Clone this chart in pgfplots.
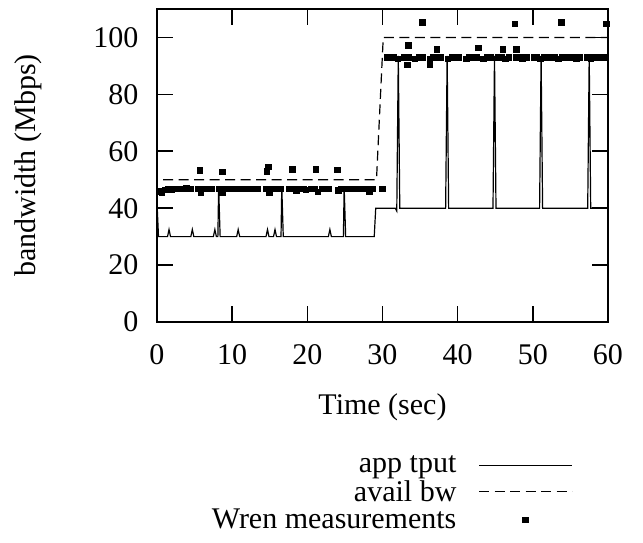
\documentclass[border=0pt]{standalone}
\usepackage{fontspec}
\setmainfont{Liberation Serif}
\usepackage{pgfplots}
\pgfplotsset{compat=1.18}

\newcommand{\chartfont}{\fontsize{30}{30}\selectfont}
\pgfplotsset{
  longline legend/.style={legend image code/.code={\draw[##1] (0pt,0pt) -- (93pt,0pt);}},
  mark legend/.style={legend image code/.code={\draw[##1] plot coordinates {(46pt,0pt)};}},
}

\begin{document}
\begin{tikzpicture}
\begin{axis}[
scale only axis,
width=451pt, height=313pt,
xmin=0, xmax=60, ymin=0, ymax=110,
xtick={0,10,...,60}, ytick={0,20,...,100},
tick align=inside,
major tick length=16pt,
axis line style={line width=2pt},
tick style={line width=1.6pt, black},
/pgf/number format/assume math mode=true,
tick label style={font=\chartfont},
xticklabel style={yshift=-19pt},
yticklabel style={xshift=-15pt},
label style={font=\chartfont},
xlabel={Time (sec)},
ylabel={bandwidth (Mbps)},
xlabel style={yshift=-22pt},
ylabel style={yshift=45pt},
legend style={font=\chartfont, draw=none, fill=none, at={(0.922,-0.421)}, anchor=north east,
  cells={anchor=east}, row sep=2.3pt, inner sep=0pt,
  /tikz/every odd column/.append style={column sep=20pt}},
legend plot pos=right,
legend cell align=right,
]
% app tput
\addplot[black, line width=1.2pt, sharp plot, longline legend] coordinates {
(0,42) (0.2,30) (1.4,30) (1.6,32.5) (1.8,30) (4.5,30) (4.7,32.5) (4.9,30)
(7.5,30) (7.7,32.5) (7.9,30) (8.1,30) (8.2,47.5) (8.4,30)
(10.6,30) (10.8,32.5) (11.0,30) (14.5,30) (14.7,32.5) (14.9,30)
(15.5,30) (15.7,32.5) (15.9,30) (16.5,30) (16.6,47.5) (16.8,30)
(22.8,30) (23.0,32.5) (23.2,30) (24.8,30) (24.9,47.5) (25.1,30)
(28.9,30) (29.1,40) (31.7,40) (31.9,39) (32.1,93.5) (32.3,40)
(38.4,40) (38.6,93.5) (38.8,40) (44.7,40) (44.9,93.5) (45.1,40)
(50.9,40) (51.1,93.5) (51.3,40) (57.3,40) (57.5,93.5) (57.7,40) (60,40)
};
\addlegendentry{app tput}
% avail bw
\addplot[black, line width=1.2pt, dash pattern=on 10pt off 5.5pt, longline legend] coordinates {
(0.8,50) (29.2,50) (30.1,100) (60,100)
};
\addlegendentry{avail bw}
% Wren measurements
\addplot[only marks, mark=square*, mark size=2.8pt, black, mark legend] coordinates {
(0.2,46) (0.6,45.6) (1.0,46.5) (1.5,46.8) (1.9,46.5) (2.4,46.8) (2.9,46.8) (3.4,46.8) (3.9,47) (4.4,46.8)
(5.4,46.8) (5.8,45.5) (6.3,46.8) (6.8,46.8) (7.3,46.8)
(8.3,46.8) (8.7,45.5) (9.2,46.8) (9.7,46.8) (10.2,46.8) (10.6,46.8)
(11.4,46.8) (11.9,46.8) (12.4,46.8) (12.9,46.8) (13.3,46.8)
(14.5,46.8) (14.9,45.5) (15.4,46.8) (15.9,46.8) (16.4,46.8)
(17.6,46.8) (18.1,46.8) (18.5,46.3) (19.0,46.8) (19.5,46.8) (19.8,46.5)
(20.5,46.8) (21.0,46.8) (21.4,45.8) (21.9,46.8) (22.4,46.8) (22.8,46.8)
(24.1,46.3) (24.5,46.8) (25.0,46.8) (25.5,46.8) (25.9,46.8)
(26.8,46.8) (27.3,46.8) (27.8,46.8) (28.2,45.8) (28.7,46.8)
(30.0,46.8)
(5.7,53.3) (8.7,52.8) (14.6,53) (14.8,54.6) (18.0,53.8) (21.1,53.8) (24.0,53.5)
(30.6,93) (31.5,93) (32.0,92.5) (32.9,93) (33.4,93) (34.3,92.5) (34.8,93) (35.3,93)
(36.3,92.5) (36.7,93) (37.2,93) (37.7,93) (38.7,92.5) (39.2,93) (39.6,93) (40.1,93)
(41.1,92.5) (41.5,93) (42.0,93) (42.5,93) (43.4,92.5) (43.9,93) (44.4,93)
(45.3,93) (45.8,93) (46.3,92.5) (46.8,93) (47.7,93) (48.2,93) (48.6,92.5) (49.1,93)
(50.1,93) (50.5,93) (51.0,92.5) (51.5,93) (52.4,93) (52.9,93) (53.4,92.5) (53.9,93)
(54.8,93) (55.3,93) (55.8,92.5) (56.2,93) (57.2,93) (57.7,92.5) (58.1,93) (58.6,93)
(59.1,93) (59.6,93)
(35.3,105.3) (47.6,104.9) (53.8,105.3) (59.8,104.9)
(33.4,97.3) (37.2,95.8) (42.7,96.4) (46.0,95.9) (47.8,95.9)
(33.3,90.4) (36.3,90.4)
};
\addlegendentry{Wren measurements}
\end{axis}
\pgfresetboundingbox
\path ([shift={(-157pt,-221pt)}]current axis.south west) rectangle ([shift={(35pt,9pt)}]current axis.north east);
\end{tikzpicture}
\end{document}
